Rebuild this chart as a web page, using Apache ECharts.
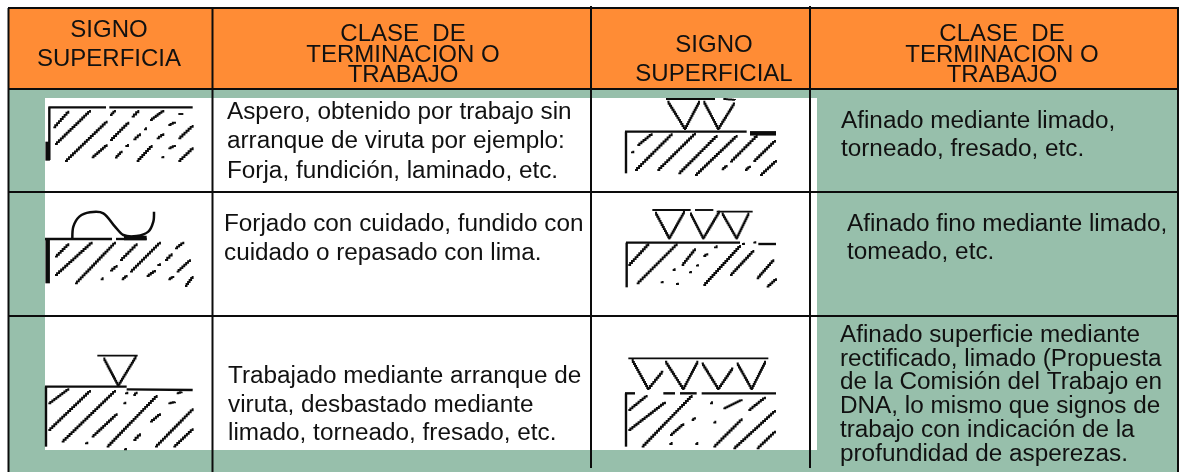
<!DOCTYPE html>
<html>
<head>
<meta charset="utf-8">
<style>
  html, body { margin: 0; padding: 0; background: #fff; }
  #chart { width: 1181px; height: 472px; }
</style>
</head>
<body>
<div id="chart"></div>
<script src="https://cdn.jsdelivr.net/npm/echarts@6/dist/echarts.min.js"></script>
<script>
const headerCol1 = ["SIGNO", "SUPERFICIA"];
const headerCol2 = ["CLASE  DE", "TERMINACION O", "TRABAJO"];
const headerCol3 = ["SIGNO", "SUPERFICIAL"];
const headerCol4 = ["CLASE  DE", "TERMINACION O", "TRABAJO"];

const workRow1 = ["Aspero, obtenido por trabajo sin", "arranque de viruta por ejemplo:", "Forja, fundición, laminado, etc."];
const workRow2 = ["Forjado con cuidado, fundido con", "cuidado o repasado con lima."];
const workRow3 = ["Trabajado mediante arranque de", "viruta, desbastado mediante", "limado, torneado, fresado, etc."];
const fineRow1 = ["Afinado mediante limado,", "torneado, fresado, etc."];
const fineRow2 = ["Afinado fino mediante limado,", "tomeado, etc."];
const fineRow3 = [
  "Afinado superficie mediante",
  "rectificado, limado (Propuesta",
  "de la Comisión del Trabajo en",
  "DNA, lo mismo que signos de",
  "trabajo con indicación de la",
  "profundidad de asperezas."
];

// sign outlines at 3x from each sign's corner
const sign1Frame = [[[145,322],[318,322]], [[328,322],[578,322]], [[148,322],[148,480]]];
const sign1Thick = [[[143,425],[143,482]]];
const sign1Hatch = [
  [[160,382],[205,332]], [[165,432],[270,330]], [[195,483],[320,362]], [[330,345],[345,330]],
  [[275,472],[320,433]], [[330,420],[385,365]], [[395,350],[415,330]], [[345,473],[365,452]],
  [[376,438],[384,432]], [[400,418],[420,400]], [[432,388],[438,382]], [[450,360],[490,330]],
  [[410,483],[455,435]], [[470,415],[490,400]], [[505,375],[525,365]], [[535,342],[550,342]],
  [[484,472],[490,468]], [[505,445],[525,435]], [[535,483],[578,442]], [[535,415],[578,375]]
];

const sign2Frame = [[[135,717],[336,717]], [[348,717],[440,717]]];
const sign2Thick = [[[143,720],[143,850]], [[372,714],[440,714]]];
const sign2Arc = [
  [217,715],[220,680],[238,650],[270,637],[310,640],[345,680],[370,705],[410,708],[445,695],[460,665],[462,635]
];
const sign2Hatch = [
  [[165,770],[205,730]], [[165,825],[275,725]], [[225,850],[345,725]], [[330,812],[350,795]],
  [[360,780],[410,730]], [[302,838],[308,832]], [[365,838],[380,825]], [[390,815],[480,725]],
  [[440,828],[465,810]], [[472,795],[480,790]], [[495,780],[515,760]], [[525,745],[550,725]],
  [[505,838],[520,828]], [[530,815],[570,778]], [[555,858],[578,828]]
];

const sign3Frame = [[[135,200],[380,200]], [[380,208],[578,210]], [[138,200],[138,380]]];
const sign3Cone = [[[292,107],[413,107]], [[310,115],[355,200]], [[410,110],[355,200]]];
const sign3Hatch = [
  [[145,250],[205,205]], [[145,330],[270,210]], [[185,365],[345,210]], [[255,370],[262,365]],
  [[275,350],[350,280]], [[320,380],[470,225]], [[375,220],[382,215]], [[370,250],[376,245]],
  [[400,225],[410,215]], [[372,388],[378,384]], [[400,360],[420,340]], [[450,305],[480,280]],
  [[505,250],[525,245]], [[465,380],[578,265]], [[520,380],[578,325]], [[530,220],[545,215]]
];

const sign4Frame = [[[135,395],[500,395]], [[138,395],[138,520]]];
const sign4Thick = [[[510,400],[588,400]]];
const sign4Cone = [
  [[258,297],[405,297]], [[430,297],[465,300]], [[262,305],[315,390]], [[360,305],[315,390]],
  [[370,305],[415,390]], [[465,310],[415,390]]
];
const sign4Hatch = [
  [[172,435],[215,400]], [[153,457],[160,452]], [[165,510],[275,400]], [[232,510],[345,398]],
  [[295,520],[410,405]], [[345,525],[470,405]], [[425,508],[440,495]], [[450,485],[530,405]],
  [[495,510],[510,497]], [[520,483],[585,420]], [[540,525],[588,480]]
];

const sign5Frame = [[[18,128],[360,128]], [[415,132],[468,132]], [[20,128],[20,262]]];
const sign5Cone = [
  [[97,30],[212,30]], [[225,30],[280,30]], [[290,35],[398,35]],
  [[105,38],[148,118]], [[195,35],[148,118]], [[210,40],[250,118]], [[300,35],[250,118]],
  [[305,40],[350,118]], [[388,40],[350,118]]
];
const sign5Hatch = [
  [[25,195],[85,130]], [[50,250],[170,130]], [[185,195],[225,145]], [[158,210],[164,205]],
  [[250,168],[262,160]], [[282,142],[290,136]], [[122,247],[128,243]], [[168,252],[174,248]],
  [[207,217],[213,213]], [[228,197],[234,193]], [[250,255],[360,135]], [[330,225],[400,150]],
  [[410,235],[460,178]], [[440,260],[468,235]], [[366,132],[372,128]], [[400,128],[406,124]]
];

const sign6Frame = [
  [[135,460],[165,460]], [[250,460],[285,460]], [[300,460],[350,460]], [[365,460],[588,460]],
  [[138,460],[138,620]]
];
const sign6Cone = [
  [[145,355],[565,355]], [[155,360],[205,450]], [[250,395],[205,450]], [[255,365],[310,450]],
  [[355,365],[310,450]], [[365,370],[415,450]], [[460,385],[415,450]], [[470,370],[515,450]],
  [[558,365],[515,450]]
];
const sign6Hatch = [
  [[145,510],[200,465]], [[145,570],[255,485]], [[185,620],[335,465]], [[270,585],[310,550]],
  [[268,612],[275,606]], [[346,612],[352,606]], [[335,540],[345,532]], [[390,490],[396,484]],
  [[430,505],[485,478]], [[400,548],[406,542]], [[400,620],[485,535]], [[460,625],[585,510]],
  [[530,625],[585,572]], [[505,510],[555,470]]
];

const PAGE_W = 1181;
const PAGE_H = 472;
const BLACK = "#0c0c0c";
const ORANGE = "#ff8c35";
const GREEN = "#97bfab";
const DOT = 2; // the signs are a blown-up bitmap, roughly one of its pixels

function place(paths, ox, oy) {
  return paths.map(p => p.map(q => [ox + q[0] / 3, oy + q[1] / 3]));
}

// turn a straight stroke into bitmap stairs
function stairs(path) {
  const a = path[0];
  const b = path[1];
  const n = Math.max(1, Math.round(Math.max(Math.abs(b[0] - a[0]), Math.abs(b[1] - a[1])) / DOT));
  const out = [a];
  for (let i = 1; i <= n; i++) {
    const x = a[0] + (b[0] - a[0]) * i / n;
    const y = a[1] + (b[1] - a[1]) * i / n;
    out.push([x, out[out.length - 1][1]]);
    out.push([x, y]);
  }
  return out;
}

function rectSeries(rects, color) {
  return {
    type: "custom",
    coordinateSystem: "cartesian2d",
    silent: true,
    clip: false,
    data: rects,
    renderItem: function(params, api) {
      const a = api.coord([api.value(0), api.value(1)]);
      const b = api.coord([api.value(2), api.value(3)]);
      return {
        type: "rect",
        shape: { x: a[0], y: a[1], width: b[0] - a[0], height: b[1] - a[1] },
        style: { fill: color }
      };
    }
  };
}

function lineSeries(paths, width, smooth) {
  return {
    type: "custom",
    coordinateSystem: "cartesian2d",
    silent: true,
    clip: false,
    data: paths.map((p, i) => [i]),
    renderItem: function(params, api) {
      const points = paths[api.value(0)].map(p => api.coord(p));
      return {
        type: "polyline",
        shape: { points: points, smooth: smooth || 0 },
        style: { stroke: BLACK, lineWidth: width, fill: null }
      };
    }
  };
}

// one entry per line: text, x, baseline, align
function textSeries(lines, size, stretch) {
  return {
    type: "custom",
    coordinateSystem: "cartesian2d",
    silent: true,
    clip: false,
    data: lines.map((l, i) => [i]),
    renderItem: function(params, api) {
      const l = lines[api.value(0)];
      const p = api.coord([l[1], l[2]]);
      return {
        type: "text",
        x: p[0],
        y: p[1],
        scaleX: stretch,
        style: {
          text: l[0],
          x: 0,
          y: 0,
          fill: "#111",
          align: l[3] || "left",
          verticalAlign: "bottom",
          font: size + 'px "Liberation Sans"',
          lineHeight: size
        }
      };
    }
  };
}

function stack(lines, x, baseline, gap, align) {
  return lines.map((t, i) => [t, x, baseline + gap[i] + 5, align]);
}

const gaps = (n, g) => Array.from({ length: n }, (_, i) => i * g);

const headerLines = [].concat(
  stack(headerCol1, 109, 37, [0, 29], "center"),
  stack(headerCol2, 403, 41, [0, 21, 41], "center"),
  stack(headerCol3, 714, 52, [0, 29], "center"),
  stack(headerCol4, 1002, 41, [0, 21, 41], "center")
);
const bodyLines = [].concat(
  stack(workRow1, 227, 119, gaps(3, 29.5), "left"),
  stack(workRow2, 224, 231, gaps(2, 29), "left"),
  stack(workRow3, 228, 383, gaps(3, 28.7), "left"),
  stack(fineRow1, 841, 128, gaps(2, 28), "left"),
  stack(fineRow2, 847, 231, gaps(2, 28), "left"),
  stack(fineRow3, 840, 342, gaps(6, 23.8), "left")
);

const chart = echarts.init(document.getElementById("chart"), null, { renderer: "canvas" });

const signThin = [].concat(
  place(sign1Frame, 0, 0), place(sign2Frame, 0, 0), place(sign3Frame, 0, 320),
  place(sign4Frame, 580, 0), place(sign5Frame, 620, 200), place(sign6Frame, 580, 240)
);
const signStairs = [].concat(
  place(sign3Cone, 0, 320), place(sign4Cone, 580, 0), place(sign5Cone, 620, 200), place(sign6Cone, 580, 240),
  place(sign1Hatch, 0, 0), place(sign2Hatch, 0, 0), place(sign3Hatch, 0, 320),
  place(sign4Hatch, 580, 0), place(sign5Hatch, 620, 200), place(sign6Hatch, 580, 240)
).map(stairs);
const signThick = [].concat(place(sign1Thick, 0, 0), place(sign2Thick, 0, 0), place(sign4Thick, 580, 0));

const ruleLines = [
  [[8, 8], [1179, 8]], [[8, 89], [1179, 89]], [[8, 192], [1179, 192]], [[8, 316], [1179, 316]],
  [[8.5, 8], [8.5, 472]], [[212.5, 8], [212.5, 472]], [[591, 6], [591, 468]], [[810, 6], [810, 468]],
  [[1178, 8], [1178, 472]]
];

chart.setOption({
  animation: false,
  backgroundColor: "#fff",
  grid: { left: 0, right: 0, top: 0, bottom: 0 },
  xAxis: { type: "value", min: 0, max: PAGE_W, show: false },
  yAxis: { type: "value", min: 0, max: PAGE_H, inverse: true, show: false },
  series: [
    rectSeries([[9, 89, 1178, 472]], GREEN),
    rectSeries([[9, 8, 1178, 89]], ORANGE),
    rectSeries([[45, 98, 817, 450]], "#fff"),
    lineSeries(ruleLines, 2),
    lineSeries(signThin, 2.4),
    lineSeries(signStairs, 1.9),
    lineSeries(signThick, 4.5),
    lineSeries(place([sign2Arc], 0, 0), 2.5, 0.3),
    textSeries(headerLines, 24, 1),
    textSeries(bodyLines, 23, 1.057)
  ]
});
</script>
</body>
</html>
